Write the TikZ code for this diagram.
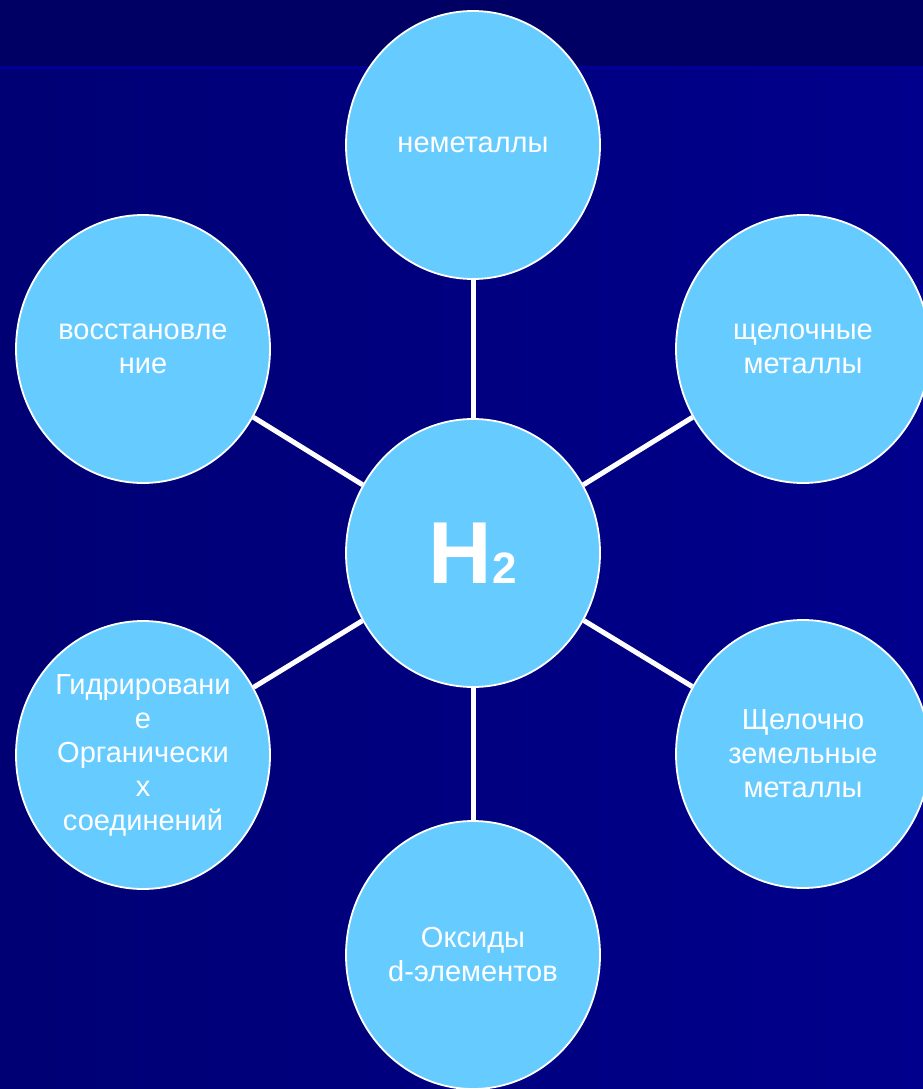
\documentclass[tikz,border=0pt]{standalone}
\usepackage{fontspec}
\setmainfont{Liberation Sans}
\usetikzlibrary{shapes.geometric}
\definecolor{bandblue}{RGB}{0,0,100}
\definecolor{stripeblue}{RGB}{0,0,150}
\definecolor{bgleft}{RGB}{0,0,116}
\definecolor{bgright}{RGB}{0,0,140}
\definecolor{bubble}{HTML}{66CCFF}
\tikzset{
  bubblenode/.style={shape=ellipse, fill=bubble, draw=white, line width=1.8pt,
    minimum width=254pt, minimum height=268pt, inner sep=0pt, align=center,
    text=white, font=\fontsize{29}{34}\selectfont},
  spoke/.style={draw=white, line width=5pt}
}
\begin{document}
\begin{tikzpicture}[x=1pt,y=-1pt]
\useasboundingbox (0,0) rectangle (923,1089);
% background
\shade[left color=bgleft, right color=bgright] (0,0) rectangle (923,1089);
\fill[bandblue] (0,0) rectangle (923,66);
\fill[stripeblue] (0,66) rectangle (923,69);
% nodes
\node[bubblenode] (h2) at (473,553) {\fontsize{88}{88}\selectfont\bfseries H{\fontsize{44}{44}\selectfont 2}};
\node[bubblenode] (top) at (473,145) {неметаллы};
\node[bubblenode] (ul) at (143,349) {восстановле\\ние};
\node[bubblenode] (ur) at (803,349) {щелочные\\металлы};
\node[bubblenode] (ll) at (143,755) {Гидрировани\\е\\Органически\\х\\соединений};
\node[bubblenode] (lr) at (803,754) {Щелочно\\земельные\\металлы};
\node[bubblenode] (bot) at (473,955) {Оксиды\\d-элементов};
% connectors
\draw[spoke] (h2) -- (top);
\draw[spoke] (h2) -- (ul);
\draw[spoke] (h2) -- (ur);
\draw[spoke] (h2) -- (ll);
\draw[spoke] (h2) -- (lr);
\draw[spoke] (h2) -- (bot);
\end{tikzpicture}
\end{document}
